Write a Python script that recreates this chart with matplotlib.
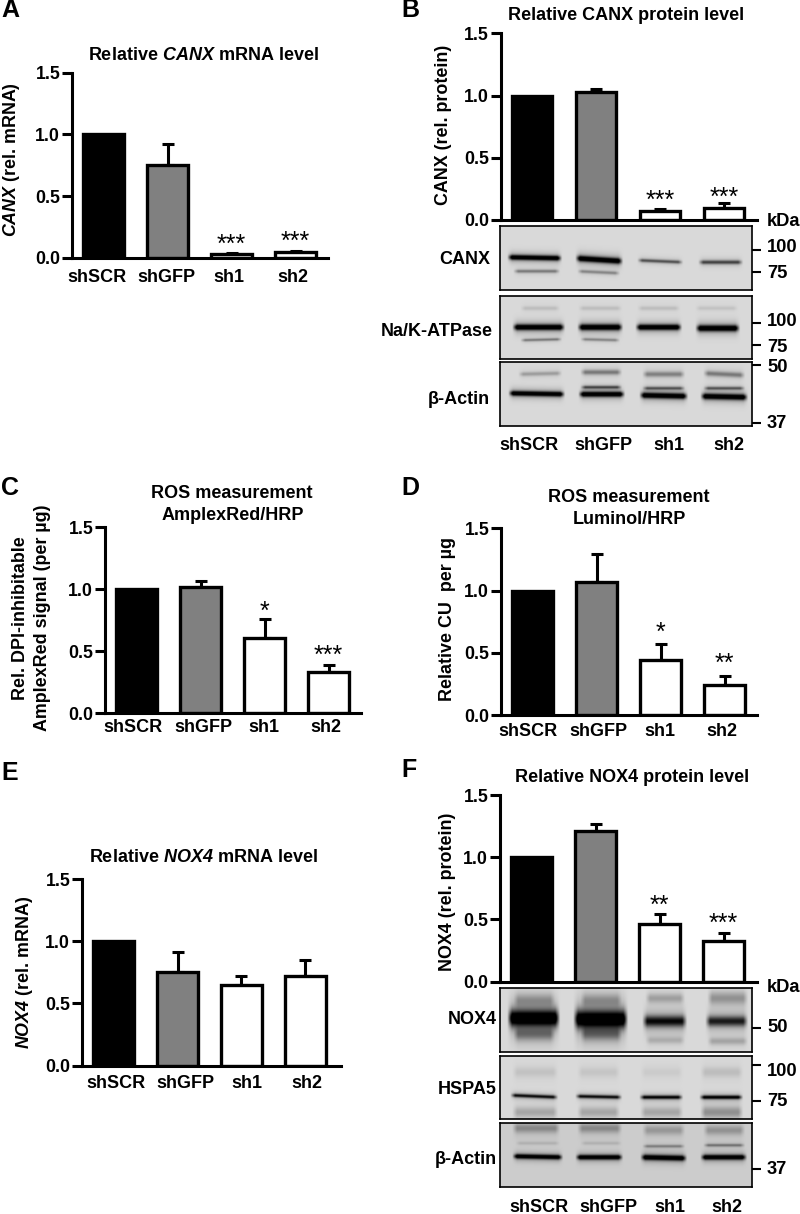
import numpy as np
import matplotlib
matplotlib.use('Agg')
import matplotlib.pyplot as plt

plt.rcParams['font.family'] = ['Liberation Sans', 'DejaVu Sans']
plt.rcParams['font.weight'] = 'bold'
plt.rcParams['mathtext.fontset'] = 'custom'
plt.rcParams['mathtext.bfit'] = 'Liberation Sans:italic:bold'
plt.rcParams['mathtext.bf'] = 'Liberation Sans:bold'

categories = ['shSCR', 'shGFP', 'sh1', 'sh2']
y_ticks = [0.0, 0.5, 1.0, 1.5]
bar_colors = ['black', '#808080', 'white', 'white']

# bar heights and upper error bars
canx_mrna = [1.0, 0.75, 0.03, 0.05]
canx_mrna_err = [0, 0.17, 0.01, 0.005]
canx_mrna_stars = ['', '', '***', '***']
canx_mrna_star_y = [0, 0, 0.14, 0.17]

canx_prot = [1.0, 1.03, 0.07, 0.10]
canx_prot_err = [0, 0.02, 0.02, 0.04]
canx_prot_stars = ['', '', '***', '***']
canx_prot_star_y = [0, 0, 0.19, 0.22]

ros_amplex = [1.0, 1.02, 0.61, 0.33]
ros_amplex_err = [0, 0.05, 0.15, 0.06]
ros_amplex_stars = ['', '', '*', '***']
ros_amplex_star_y = [0, 0, 0.86, 0.50]

ros_luminol = [1.0, 1.07, 0.44, 0.24]
ros_luminol_err = [0, 0.22, 0.13, 0.07]
ros_luminol_stars = ['', '', '*', '**']
ros_luminol_star_y = [0, 0, 0.70, 0.45]

nox4_mrna = [1.0, 0.75, 0.65, 0.72]
nox4_mrna_err = [0, 0.16, 0.07, 0.13]

nox4_prot = [1.0, 1.21, 0.46, 0.33]
nox4_prot_err = [0, 0.06, 0.08, 0.06]
nox4_prot_stars = ['', '', '**', '***']
nox4_prot_star_y = [0, 0, 0.65, 0.50]

# blot bands: x start, x end, y left, y right, thickness, strength
blot_canx = [
    (507, 562, 257, 258, 2.4, 1.0), (575, 623, 258, 261, 2.8, 1.0),
    (637, 683, 260, 262, 1.6, 0.5), (698, 743, 262, 262, 1.9, 0.55),
    (513, 560, 271, 271, 1.6, 0.35), (577, 620, 271, 273, 1.6, 0.3),
]
blot_atpase = [
    (512, 565, 327, 327, 2.8, 1.0), (577, 623, 327, 327, 2.9, 1.0),
    (635, 682, 327, 327, 2.7, 1.0), (695, 740, 328, 328, 3.0, 1.0),
    (520, 562, 340, 339, 1.3, 0.35), (580, 620, 339, 340, 1.4, 0.3),
    (520, 560, 308, 308, 2.0, 0.1), (578, 622, 308, 308, 2.0, 0.1),
    (637, 680, 308, 308, 2.0, 0.1), (695, 738, 308, 308, 2.0, 0.08),
]
blot_actin_b = [
    (508, 565, 393, 394, 2.4, 1.0), (578, 625, 394, 394, 2.5, 1.0),
    (639, 688, 395, 396, 2.7, 1.0), (700, 748, 396, 397, 2.8, 1.0),
    (580, 622, 387, 387, 1.5, 0.5), (642, 685, 388, 388, 1.5, 0.45),
    (703, 745, 388, 388, 1.5, 0.45),
    (518, 562, 374, 373, 2.0, 0.22), (580, 622, 372, 372, 2.4, 0.35),
    (642, 685, 374, 374, 2.6, 0.32), (703, 745, 373, 375, 2.5, 0.35),
]
blot_nox4 = [
    (507, 560, 1018, 1018, 8.0, 1.0), (573, 628, 1019, 1019, 8.5, 1.0),
    (642, 687, 1021, 1021, 5.5, 0.75), (705, 748, 1021, 1021, 5.0, 0.68),
    (513, 555, 1000, 1000, 6.0, 0.2), (580, 622, 1000, 1000, 6.0, 0.2),
    (645, 685, 998, 998, 4.5, 0.2), (707, 748, 998, 998, 6.0, 0.25),
    (513, 555, 1034, 1034, 6.0, 0.3), (580, 622, 1034, 1034, 6.0, 0.3),
    (645, 685, 1040, 1040, 3.5, 0.14), (707, 748, 1041, 1041, 3.5, 0.18),
]
blot_hspa5 = [
    (510, 558, 1095, 1097, 1.7, 0.75), (575, 622, 1096, 1097, 1.7, 0.75),
    (639, 683, 1097, 1097, 1.8, 0.8), (699, 743, 1097, 1097, 1.8, 0.85),
    (512, 558, 1112, 1112, 5.0, 0.18), (577, 620, 1112, 1112, 5.0, 0.18),
    (640, 683, 1112, 1112, 5.0, 0.18), (700, 743, 1112, 1112, 5.5, 0.26),
    (512, 558, 1072, 1072, 5.0, 0.08), (577, 620, 1072, 1072, 5.0, 0.07),
    (640, 683, 1072, 1072, 5.0, 0.05), (700, 743, 1072, 1072, 5.0, 0.1),
]
blot_actin_f = [
    (512, 563, 1156, 1157, 2.2, 1.0), (575, 623, 1157, 1157, 2.3, 1.0),
    (640, 687, 1157, 1158, 2.6, 1.0), (700, 747, 1157, 1157, 2.4, 1.0),
    (512, 560, 1128, 1128, 4.5, 0.26), (577, 622, 1128, 1128, 4.5, 0.26),
    (642, 685, 1130, 1130, 4.5, 0.2), (703, 745, 1130, 1130, 4.5, 0.22),
    (642, 685, 1146, 1146, 1.4, 0.3), (703, 745, 1145, 1145, 1.4, 0.35),
    (515, 560, 1143, 1143, 1.6, 0.1), (580, 622, 1143, 1143, 1.6, 0.1),
]


def px_axes(fig, left, top, right, bottom):
    return fig.add_axes([left / 800, 1 - bottom / 1214, (right - left) / 800, (bottom - top) / 1214])


def bar_panel(fig, left, top, right, bottom, first_bar, values, errs, stars=None, star_y=None):
    ax = px_axes(fig, left, top, right, bottom)
    ax.patch.set_alpha(0)
    unit = 64
    ax.set_xlim((left - first_bar) / unit, (right - first_bar) / unit)
    ax.set_ylim(0, 1.5)
    pos = np.arange(4)
    ax.errorbar(pos[1:], values[1:], yerr=[[0, 0, 0], errs[1:]], fmt='none', ecolor='black',
                elinewidth=2.2, capsize=4.3, capthick=2.2, zorder=2, clip_on=False)
    ax.bar(pos, values, width=0.64, color=bar_colors, edgecolor='black', linewidth=2.4, zorder=3)
    for side in ['top', 'right']:
        ax.spines[side].set_visible(False)
    for side in ['left', 'bottom']:
        ax.spines[side].set_linewidth(2.2)
        ax.spines[side].set_zorder(5)
    ax.set_xticks([])
    ax.set_yticks(y_ticks)
    ax.set_yticklabels(['%.1f' % t for t in y_ticks], fontsize=12.8, fontweight='bold')
    ax.tick_params(axis='y', length=7, width=2.2, pad=1.5)
    if stars:
        for i in range(4):
            if stars[i]:
                # the asterisk sits high in its line, so the baseline is set below its centre
                ax.annotate(stars[i], (i, star_y[i]), xytext=(0, -8.5), textcoords='offset points',
                            ha='center', va='baseline', fontsize=18, fontweight='normal')
    return ax


def blot(fig, left, top, right, bottom, bands, back=0.85, ticks=()):
    ax = px_axes(fig, left, top, right, bottom)
    ys, xs = np.mgrid[top:bottom:0.5, left:right:0.5]
    img = np.zeros(xs.shape)
    for x0, x1, yl, yr, thick, strength in bands:
        centre = yl + (yr - yl) * (xs - x0) / (x1 - x0)
        d = (ys - centre) / thick
        across = 0.8 * np.exp(-d ** 2) + 0.2 * np.exp(-(d / 2.4) ** 2)
        along = np.clip((xs - x0) / 5, 0, 1) * np.clip((x1 - xs) / 5, 0, 1)
        img = img + strength * across * along
    img = back * (1 - np.clip(img * 1.3, 0, 1))
    ax.imshow(img, cmap='gray', vmin=0, vmax=1, aspect='auto', extent=(left, right, bottom, top),
              interpolation='bilinear')
    ax.set_xlim(left, right)
    ax.set_ylim(bottom, top)
    ax.set_xticks([])
    ax.yaxis.tick_right()
    ax.set_yticks(list(ticks))
    ax.set_yticklabels([])
    ax.tick_params(axis='y', length=6.5, width=1.5)
    for side in ax.spines.values():
        side.set_linewidth(1.2)
    return ax


def cat_labels(page, xs, y):
    for x, name in zip(xs, categories):
        page.text(x, y, name, ha='center', va='center', fontsize=13)


def main():
    fig = plt.figure(figsize=(8, 12.14), dpi=100)
    page = fig.add_axes([0, 0, 1, 1])
    page.set_xlim(0, 800)
    page.set_ylim(1214, 0)
    page.axis('off')

    bar_panel(fig, 72, 72.7, 328, 257.7, 103.5, canx_mrna, canx_mrna_err, canx_mrna_stars, canx_mrna_star_y)
    bar_panel(fig, 500.7, 33.3, 756.7, 220, 532, canx_prot, canx_prot_err, canx_prot_stars, canx_prot_star_y)
    bar_panel(fig, 105, 527.3, 361, 713.3, 136.5, ros_amplex, ros_amplex_err, ros_amplex_stars, ros_amplex_star_y)
    bar_panel(fig, 501, 528.3, 757, 715, 532.8, ros_luminol, ros_luminol_err, ros_luminol_stars, ros_luminol_star_y)
    bar_panel(fig, 82, 879, 340.7, 1065.7, 113.5, nox4_mrna, nox4_mrna_err)
    bar_panel(fig, 500, 795, 756.7, 981.7, 531.7, nox4_prot, nox4_prot_err, nox4_prot_stars, nox4_prot_star_y)

    blot(fig, 500, 226, 752, 290, blot_canx, ticks=[250, 272])
    blot(fig, 500, 296, 752, 359, blot_atpase, ticks=[323, 345])
    blot(fig, 500, 362, 752, 426, blot_actin_b, ticks=[365, 423])
    blot(fig, 500, 988, 752, 1052, blot_nox4, ticks=[1028])
    blot(fig, 500, 1056, 752, 1119, blot_hspa5, ticks=[1065, 1101])
    blot(fig, 500, 1123, 752, 1187, blot_actin_f, back=0.8, ticks=[1169])

    # panel letters
    for name, x, y in [('A', 1, 10), ('B', 401, 10), ('C', 1, 488), ('D', 401, 488), ('E', 1, 773), ('F', 401, 770)]:
        page.text(x, y, name, ha='left', va='center', fontsize=18)

    # titles
    title_size = 13
    page.text(203, 55, r'Relative $\mathbfit{CANX}$ mRNA level', ha='center', va='center', fontsize=title_size)
    page.text(625.7, 16, 'Relative CANX protein level', ha='center', va='center', fontsize=title_size)
    page.text(231.7, 494, 'ROS measurement', ha='center', va='center', fontsize=title_size)
    page.text(233, 515, 'AmplexRed/HRP', ha='center', va='center', fontsize=title_size)
    page.text(628.5, 498, 'ROS measurement', ha='center', va='center', fontsize=title_size)
    page.text(629, 520, 'Luminol/HRP', ha='center', va='center', fontsize=title_size)
    page.text(203, 858, r'Relative $\mathbfit{NOX4}$ mRNA level', ha='center', va='center', fontsize=title_size)
    page.text(632.5, 777, 'Relative NOX4 protein level', ha='center', va='center', fontsize=title_size)

    # y labels
    ylab = dict(rotation=90, ha='center', va='center', fontsize=12.9)
    page.text(12, 160, r'$\mathbfit{CANX}$ (rel. mRNA)', **ylab)
    page.text(444, 124.5, 'CANX (rel. protein)', **ylab)
    page.text(21, 618, 'Rel. DPI-inhibitable', **ylab)
    page.text(43, 618, 'AmplexRed signal (per µg)', **ylab)
    page.text(447, 619, 'Relative CU  per µg', **ylab)
    page.text(25, 972, r'$\mathbfit{NOX4}$ (rel. mRNA)', **ylab)
    page.text(448, 892, 'NOX4 (rel. protein)', **ylab)

    cat_labels(page, [97.5, 166.7, 229, 293], 278)
    cat_labels(page, [529, 603, 669, 729], 445)
    cat_labels(page, [133, 203.3, 264, 326], 728)
    cat_labels(page, [528, 598, 660, 722], 732)
    cat_labels(page, [116, 185, 247, 307], 1083)
    cat_labels(page, [538.5, 608, 670, 726.7], 1207)

    # blot names and size markers
    for name, x, y in [('CANX', 490, 260), ('Na/K-ATPase', 493, 331), ('β-Actin', 490, 400),
                       ('NOX4', 497, 1020), ('HSPA5', 497, 1090), ('β-Actin', 497, 1160)]:
        page.text(x, y, name, ha='right', va='center', fontsize=13)
    for name, y in [('kDa', 221), ('100', 248), ('75', 273), ('100', 322), ('75', 347), ('50', 368), ('37', 424),
                    ('kDa', 988), ('50', 1028), ('100', 1072), ('75', 1102), ('37', 1169)]:
        page.text(767, y, name, ha='left', va='center', fontsize=13.2)

    fig.savefig('out.png', dpi=100)


if __name__ == '__main__':
    main()
